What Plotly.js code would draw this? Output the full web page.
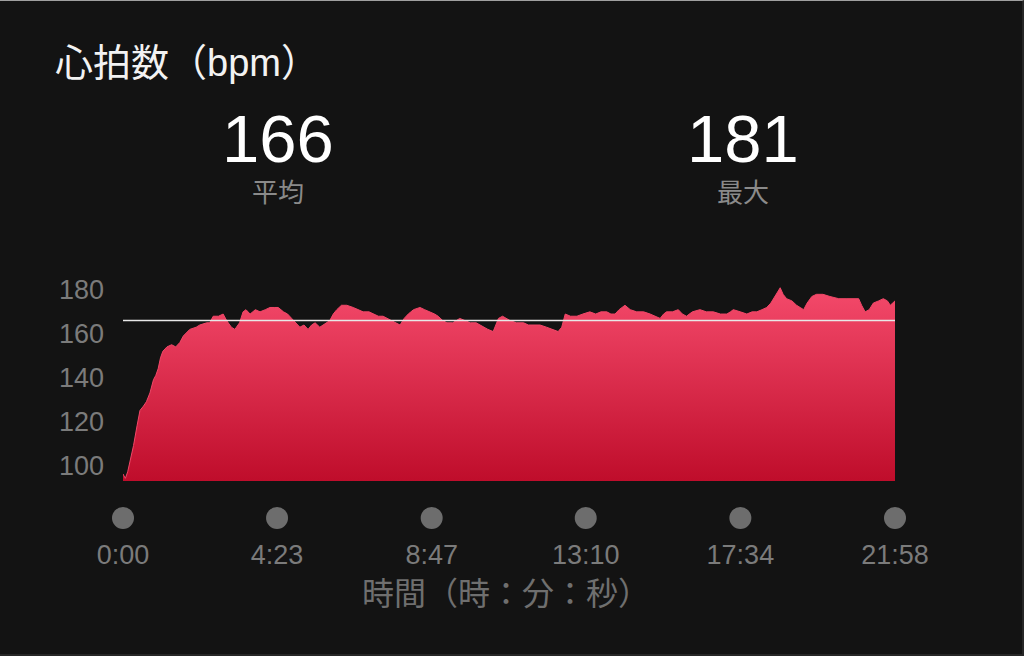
<!DOCTYPE html>
<html>
<head>
<meta charset="utf-8">
<script src="https://cdn.plot.ly/plotly-3.0.1.min.js"></script>
<style>
  html, body { margin: 0; padding: 0; background: #131313; }
  #chart { width: 1024px; height: 656px; }
  #cadre { position: absolute; left: 0; top: 0; width: 1024px; height: 656px; box-sizing: border-box;
    border-top: 1px solid #a0a0a0; border-right: 2px solid #262626; border-bottom: 2px solid #262626;
    pointer-events: none; }
</style>
</head>
<body>
<div id="chart"></div>
<div id="cadre"></div>
<script>
// valeurs (secondes, bpm)
var hrTime = [0, 4, 8, 13, 18, 24, 29, 35, 40, 46, 52, 56, 60, 64, 68, 75, 83, 90, 97, 103,
  114, 125, 131, 143, 148, 154, 163, 171, 177, 185, 191, 199, 205, 210, 217, 226, 234, 243, 251, 258,
  265, 274, 281, 288, 302, 309, 316, 322, 328, 336, 342, 353, 359, 365, 373, 382, 393, 401, 410, 420,
  427, 436, 444, 451, 459, 466, 473, 480, 487, 496, 507, 515, 524, 532, 538, 546, 553, 563, 575, 584,
  593, 603, 615, 623, 632, 637, 641, 648, 655, 661, 672, 684, 692, 701, 712, 723, 735, 743, 749, 755,
  764, 775, 785, 797, 807, 816, 826, 833, 840, 847, 857, 866, 877, 889, 900, 909, 917, 923, 928, 938,
  948, 955, 962, 972, 985, 996, 1008, 1020, 1031, 1037, 1042, 1054, 1065, 1074, 1082, 1091, 1099, 1106, 1113, 1118,
  1122, 1127, 1133, 1142, 1150, 1156, 1162, 1168, 1176, 1184, 1195, 1207, 1222, 1236, 1248, 1256, 1261, 1267, 1274, 1281,
  1290, 1298, 1305, 1310, 1314, 1318];
var hrBpm = [96, 94, 97, 103, 109, 118, 125, 127, 129, 133, 139, 141, 144, 149, 152, 154, 155, 154, 156, 159,
  162, 163, 164, 165, 165, 168, 168, 169, 166, 163, 162, 165, 170, 171, 169, 171, 170, 171, 172, 172,
  172, 170, 169, 167, 163, 164, 162, 164, 165, 163, 164, 166, 169, 171, 173, 173, 172, 171, 170, 170,
  169, 168, 168, 167, 166, 165, 164, 167, 169, 171, 172, 171, 170, 169, 168, 166, 165, 165, 167, 166,
  165, 165, 163, 162, 161, 164, 167, 168, 167, 166, 165, 165, 164, 164, 164, 163, 162, 161, 163, 169,
  168, 168, 169, 170, 169, 170, 170, 169, 169, 171, 173, 171, 170, 170, 169, 168, 167, 169, 170, 170,
  171, 169, 168, 170, 171, 170, 170, 169, 169, 170, 171, 170, 169, 170, 170, 171, 172, 174, 177, 179,
  181, 178, 176, 175, 173, 172, 171, 174, 177, 178, 178, 177, 176, 176, 176, 176, 173, 170, 171, 174,
  175, 176, 175, 173, 174, 175];

var avgBpm = 166;
var maxBpm = 181;

var tickSec = [0, 263, 527, 790, 1054, 1318];
var tickText = ['0:00', '4:23', '8:47', '13:10', '17:34', '21:58'];
var yTicks = [100, 120, 140, 160, 180];

var FONT = '"Helvetica Neue", "Liberation Sans", Arial, "Noto Sans CJK JP", sans-serif';
var GRIS = '#7b7b7b';

var aire = {
  x: hrTime,
  y: hrBpm,
  type: 'scatter',
  mode: 'lines',
  line: { color: '#f14768', width: 1 },
  fill: 'tozeroy',
  fillgradient: {
    type: 'vertical',
    start: 92.8,
    stop: maxBpm,
    colorscale: [[0, '#bf0d2b'], [1, '#f44a6b']]
  },
  hoverinfo: 'skip'
};

var moyenne = {
  x: [hrTime[0], hrTime[hrTime.length - 1]],
  y: [avgBpm, avgBpm],
  type: 'scatter',
  mode: 'lines',
  line: { color: '#e8e8e8', width: 1.5 },
  hoverinfo: 'skip'
};

// les points gris sous chaque graduation
var points = {
  x: tickSec,
  y: tickSec.map(function() { return 0.5; }),
  yaxis: 'y2',
  type: 'scatter',
  mode: 'markers',
  marker: { color: '#6d6d6d', size: 22 },
  cliponaxis: false,
  hoverinfo: 'skip'
};

var layout = {
  width: 1024,
  height: 656,
  margin: { l: 123, r: 129, t: 270, b: 116 },
  paper_bgcolor: '#131313',
  plot_bgcolor: '#131313',
  showlegend: false,
  font: { family: FONT, color: GRIS },
  title: {
    text: '心拍数（bpm）',
    xref: 'container', yref: 'container',
    x: 55 / 1024, xanchor: 'left',
    y: 1 - 63 / 656, yanchor: 'middle',
    font: { family: FONT, size: 38, color: '#f2f2f2' }
  },
  xaxis: {
    range: [0, 1318],
    anchor: 'free',
    position: 0,
    showgrid: false,
    zeroline: false,
    showline: false,
    ticks: '',
    tickvals: tickSec,
    ticktext: tickText,
    ticklabelstandoff: -4,
    tickfont: { size: 27, color: GRIS }
  },
  yaxis: {
    domain: [0.2185, 1],
    range: [92.8, 189.1],
    showgrid: false,
    zeroline: false,
    showline: false,
    ticks: '',
    tickvals: yTicks,
    ticklabelstandoff: 18,
    tickfont: { size: 27, color: GRIS }
  },
  yaxis2: {
    domain: [0, 0.163],
    range: [0, 1],
    visible: false
  },
  annotations: [
    { text: String(avgBpm), xref: 'paper', yref: 'paper', x: (278 - 123) / 772, y: (540 - 138) / 270,
      xanchor: 'center', yanchor: 'middle', showarrow: false, font: { size: 67, color: '#ffffff' } },
    { text: '平均', xref: 'paper', yref: 'paper', x: (278 - 123) / 772, y: (540 - 193) / 270,
      xanchor: 'center', yanchor: 'middle', showarrow: false, font: { size: 26, color: '#8a8a8a' } },
    { text: String(maxBpm), xref: 'paper', yref: 'paper', x: (743 - 123) / 772, y: (540 - 138) / 270,
      xanchor: 'center', yanchor: 'middle', showarrow: false, font: { size: 67, color: '#ffffff' } },
    { text: '最大', xref: 'paper', yref: 'paper', x: (743 - 123) / 772, y: (540 - 193) / 270,
      xanchor: 'center', yanchor: 'middle', showarrow: false, font: { size: 26, color: '#8a8a8a' } },
    { text: '時間（時：分：秒）', xref: 'paper', yref: 'paper', x: (506 - 123) / 772, y: (540 - 594) / 270,
      xanchor: 'center', yanchor: 'middle', showarrow: false, font: { size: 32, color: '#6f6f6f' } }
  ]
};

Plotly.newPlot('chart', [aire, moyenne, points], layout, { staticPlot: true });
</script>
</body>
</html>
